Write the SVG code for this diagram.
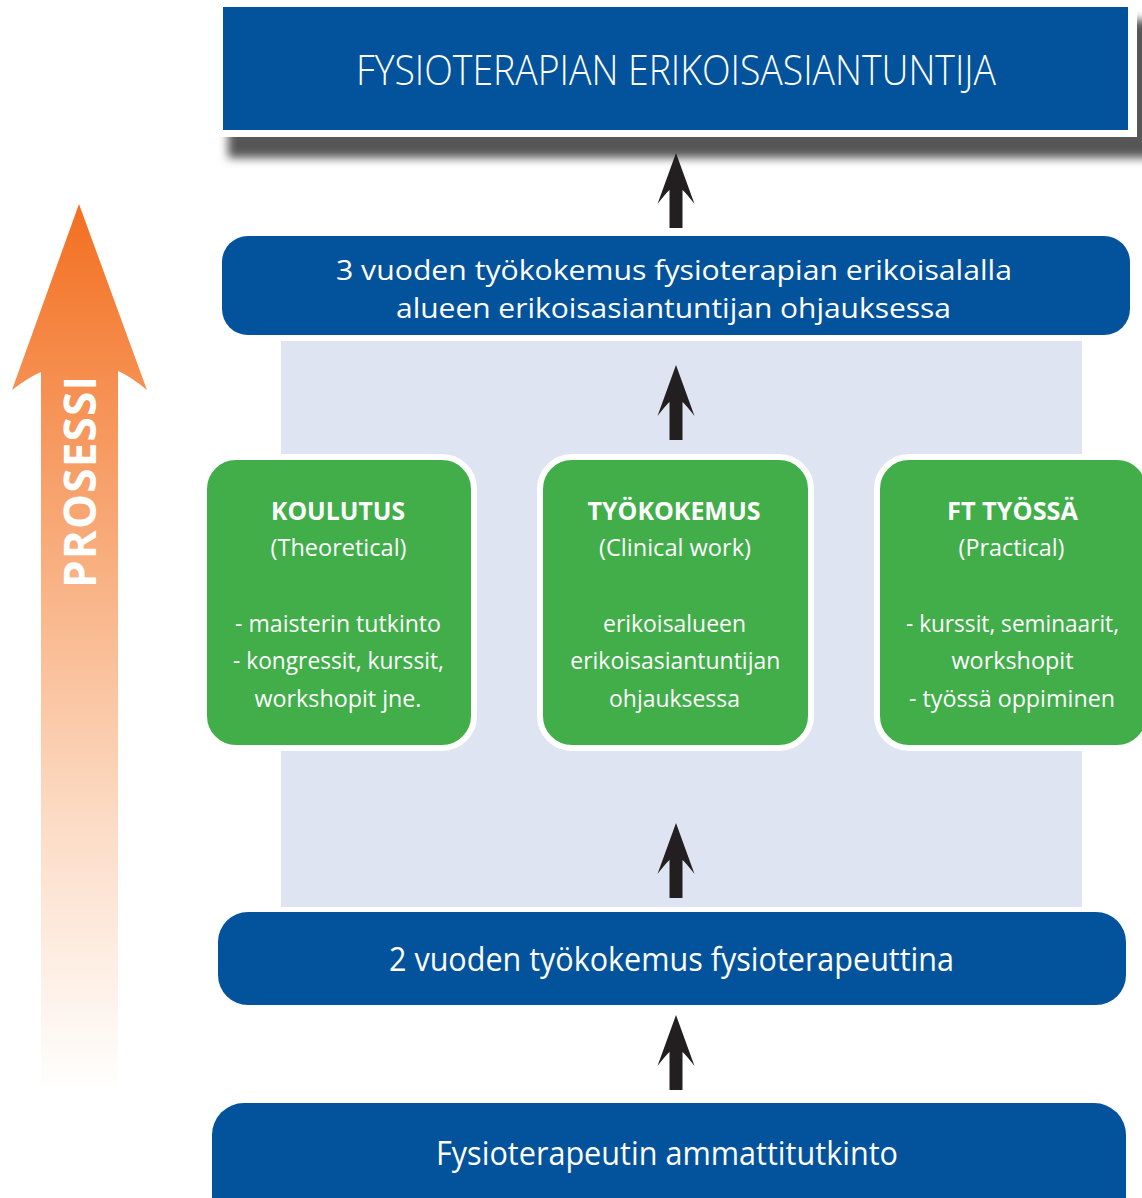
<svg xmlns="http://www.w3.org/2000/svg" width="1142" height="1198" viewBox="0 0 1142 1198">
<defs>
<style>
.blue{fill:#02539c}
.green{fill:#41ae4a;stroke:#fff;stroke-width:6}
.t{font-family:"Open Sans","Liberation Sans",sans-serif;fill:#fff;text-anchor:middle}
.big{font-size:33px}
.mid{font-size:28px}
.top{font-size:42px;font-weight:300}
.gt{font-size:25px;font-weight:700}
.gb{font-size:23.5px}
.arr{fill:#231f20}
</style>
<linearGradient id="og" gradientUnits="userSpaceOnUse" x1="0" y1="204" x2="0" y2="1092">
<stop offset="0" stop-color="#f36f21"/>
<stop offset="0.45" stop-color="#f9b68a"/>
<stop offset="0.7" stop-color="#fcdcc6"/>
<stop offset="1" stop-color="#ffffff"/>
</linearGradient>
<filter id="blur" x="-5%" y="-30%" width="110%" height="160%">
<feGaussianBlur stdDeviation="5"/>
</filter>
<path id="ar" d="M0,0 L18.5,51 Q10,40 6.5,37 L6.5,75 L-6.5,75 L-6.5,37 Q-10,40 -18.5,51 Z"/>
</defs>

<g id="process-arrow">
<path d="M79,204 L147,390 Q130,376 118,371 L118,1092 L41,1092 L41,372 Q29,377 12,390 Z" fill="url(#og)"/>
<text class="t" transform="translate(96,482) rotate(-90)" font-size="44" font-weight="700" textLength="212" lengthAdjust="spacing">PROSESSI</text>
</g>

<g id="panel">
<rect x="281" y="341" width="801" height="566" fill="#dfe4f2"/>
</g>

<g id="node-top">
<rect x="228" y="20" width="930" height="138" fill="#575757" filter="url(#blur)"/>
<rect x="215" y="0" width="922" height="137" fill="#fff"/>
<rect class="blue" x="223" y="7" width="905" height="123"/>
<text class="t top" x="676" y="85" textLength="640" lengthAdjust="spacingAndGlyphs">FYSIOTERAPIAN ERIKOISASIANTUNTIJA</text>
</g>

<g id="node-3v">
<rect class="blue" x="222" y="236" width="908" height="99" rx="26"/>
<text class="t mid" x="674" y="280" textLength="676" lengthAdjust="spacingAndGlyphs">3 vuoden työkokemus fysioterapian erikoisalalla</text>
<text class="t mid" x="673.5" y="318" textLength="555" lengthAdjust="spacingAndGlyphs">alueen erikoisasiantuntijan ohjauksessa</text>
</g>

<g id="node-koulutus">
<rect class="green" x="204" y="457" width="270" height="291" rx="32"/>
<text class="t gt" x="338" y="520" textLength="134" lengthAdjust="spacingAndGlyphs">KOULUTUS</text>
<text class="t gb" x="338.5" y="556" textLength="136" lengthAdjust="spacingAndGlyphs">(Theoretical)</text>
<text class="t gb" x="338" y="632" textLength="206" lengthAdjust="spacingAndGlyphs">- maisterin tutkinto</text>
<text class="t gb" x="338.5" y="669" textLength="211" lengthAdjust="spacingAndGlyphs">- kongressit, kurssit,</text>
<text class="t gb" x="338" y="707" textLength="167" lengthAdjust="spacingAndGlyphs">workshopit jne.</text>
</g>

<g id="node-tyokokemus">
<rect class="green" x="540" y="457" width="271" height="291" rx="32"/>
<text class="t gt" x="674" y="520" textLength="173" lengthAdjust="spacingAndGlyphs">TYÖKOKEMUS</text>
<text class="t gb" x="675" y="556" textLength="152" lengthAdjust="spacingAndGlyphs">(Clinical work)</text>
<text class="t gb" x="674.5" y="632" textLength="143" lengthAdjust="spacingAndGlyphs">erikoisalueen</text>
<text class="t gb" x="675.3" y="669" textLength="210" lengthAdjust="spacingAndGlyphs">erikoisasiantuntijan</text>
<text class="t gb" x="674.5" y="707" textLength="131" lengthAdjust="spacingAndGlyphs">ohjauksessa</text>
</g>

<g id="node-ft">
<rect class="green" x="877" y="457" width="272" height="291" rx="32"/>
<text class="t gt" x="1012.5" y="520" textLength="131" lengthAdjust="spacingAndGlyphs">FT TYÖSSÄ</text>
<text class="t gb" x="1011.5" y="556" textLength="106" lengthAdjust="spacingAndGlyphs">(Practical)</text>
<text class="t gb" x="1012.5" y="632" textLength="213" lengthAdjust="spacingAndGlyphs">- kurssit, seminaarit,</text>
<text class="t gb" x="1012.5" y="669" textLength="122" lengthAdjust="spacingAndGlyphs">workshopit</text>
<text class="t gb" x="1012" y="707" textLength="206" lengthAdjust="spacingAndGlyphs">- työssä oppiminen</text>
</g>

<g id="node-2v">
<rect class="blue" x="218" y="912" width="908" height="93" rx="30"/>
<text class="t big" x="671.5" y="971" textLength="565" lengthAdjust="spacingAndGlyphs">2 vuoden työkokemus fysioterapeuttina</text>
</g>

<g id="node-base">
<rect class="blue" x="212" y="1103" width="914" height="130" rx="32"/>
<text class="t big" x="667" y="1165" textLength="462" lengthAdjust="spacingAndGlyphs">Fysioterapeutin ammattitutkinto</text>
</g>

<g id="connectors">
<use href="#ar" class="arr" x="676" y="153"/>
<use href="#ar" class="arr" x="676" y="365"/>
<use href="#ar" class="arr" x="676" y="823"/>
<use href="#ar" class="arr" x="676" y="1015"/>
</g>
</svg>
